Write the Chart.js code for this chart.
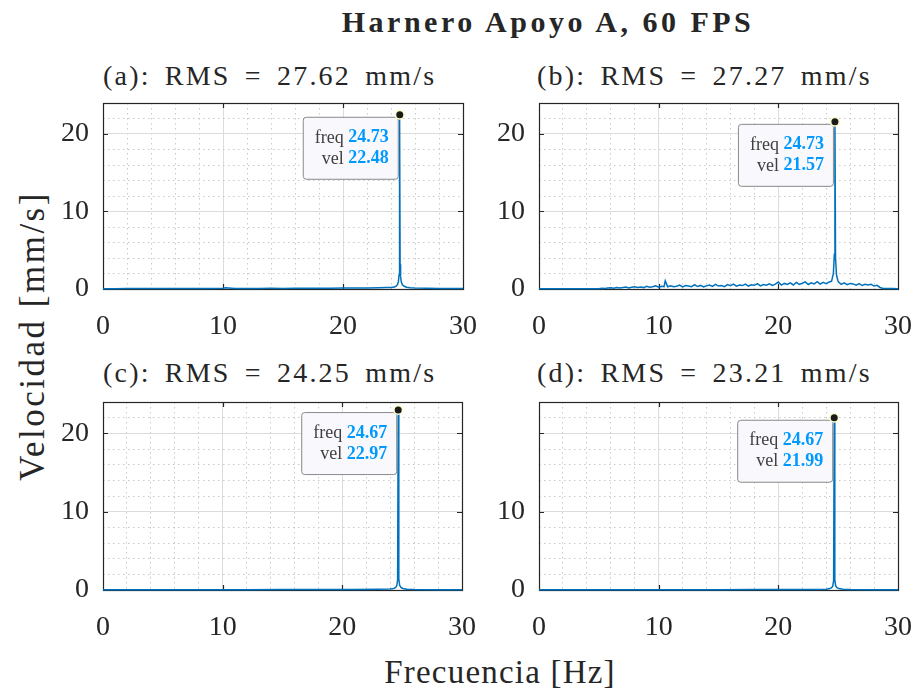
<!DOCTYPE html>
<html lang="es">
<head>
<meta charset="utf-8">
<title>Harnero Apoyo A, 60 FPS</title>
<script src="https://cdn.jsdelivr.net/npm/chart.js@4.4.1/dist/chart.umd.min.js"></script>
<style>
  html, body { margin: 0; padding: 0; background: #fff; }
  #page { position: relative; width: 914px; height: 696px; overflow: hidden;
          font-family: 'Liberation Serif', 'Times New Roman', serif; color: #262626; }
  canvas { position: absolute; }
  .txt { position: absolute; white-space: nowrap; line-height: 1; }
  #title { left: 548px; top: 22px; transform: translate(-50%, -50%); font-size: 30px; font-weight: bold; letter-spacing: 3.5px; }
  .sub { font-size: 28px; letter-spacing: 2.2px; word-spacing: 5px; transform: translateY(-50%); }
  #ylab { left: 32px; top: 336px; transform: translate(-50%, -50%) rotate(-90deg); font-size: 35px; letter-spacing: 2.5px; }
  #xlab { left: 500px; top: 672px; transform: translate(-50%, -50%); font-size: 33px; letter-spacing: 1.2px; }
</style>
</head>
<body>
<div id="page">
  <div class="txt" id="title">Harnero Apoyo A, 60 FPS</div>
  <div class="txt sub" style="left:103px; top:76px">(a): RMS = 27.62 mm/s</div>
  <div class="txt sub" style="left:537px; top:76px">(b): RMS = 27.27 mm/s</div>
  <div class="txt sub" style="left:103px; top:373px">(c): RMS = 24.25 mm/s</div>
  <div class="txt sub" style="left:537px; top:373px">(d): RMS = 23.21 mm/s</div>
  <div class="txt" id="ylab">Velocidad [mm/s]</div>
  <div class="txt" id="xlab">Frecuencia [Hz]</div>
  <canvas id="cA" width="480" height="260" style="left:0; top:95px"></canvas>
  <canvas id="cB" width="434" height="260" style="left:480px; top:95px"></canvas>
  <canvas id="cC" width="480" height="255" style="left:0; top:395px"></canvas>
  <canvas id="cD" width="434" height="255" style="left:480px; top:395px"></canvas>
</div>
<script>
// ---- datos ----
const xTicks = [0, 10, 20, 30];
const yTicks = [0, 10, 20];

// (a)
const freqA = [0, 0.5, 1, 2, 3, 4, 5, 6, 7, 8, 9, 10, 10.2, 11, 12, 13, 14, 15, 16, 17, 18, 19, 20, 21, 22, 23, 23.6,
  24.0, 24.3, 24.45, 24.55, 24.62, 24.67, 24.70, 24.73, 24.76, 24.80, 24.86, 24.95, 25.1, 25.3, 25.6, 26, 27, 28, 29, 30];
const velA = [0.02, 0.03, 0.04, 0.05, 0.05, 0.06, 0.05, 0.07, 0.06, 0.08, 0.07, 0.09, 0.16, 0.08, 0.07, 0.08, 0.09, 0.08, 0.1, 0.09, 0.1, 0.11, 0.12, 0.12, 0.13, 0.15, 0.18,
  0.2, 0.25, 0.4, 0.6, 1.0, 1.8, 3.5, 22.48, 3.2, 1.6, 0.9, 0.55, 0.35, 0.22, 0.15, 0.12, 0.1, 0.08, 0.06, 0.05];

// (b)
const freqB = [0, 1, 2, 3, 4, 4.6,
  5.0, 5.25, 5.5, 5.75, 6.0, 6.25, 6.5, 6.75, 7.0, 7.25, 7.5, 7.75, 8.0, 8.25, 8.5, 8.75, 9.0, 9.25, 9.5, 9.75,
  10.0, 10.25, 10.45, 10.55, 10.75, 11.0, 11.25, 11.5, 11.75, 12.0, 12.25, 12.5, 12.75, 13.0, 13.25, 13.5, 13.75,
  14.0, 14.25, 14.5, 14.75, 15.0, 15.25, 15.5, 15.75, 16.0, 16.25, 16.5, 16.75, 17.0, 17.25, 17.5, 17.75,
  18.0, 18.25, 18.5, 18.75, 19.0, 19.25, 19.5, 19.75, 20.0, 20.25, 20.5, 20.75, 21.0, 21.25, 21.5, 21.75,
  22.0, 22.25, 22.5, 22.75, 23.0, 23.25, 23.5, 23.75, 24.0, 24.25, 24.45, 24.6, 24.68, 24.73, 24.78, 24.86,
  25.0, 25.25, 25.5, 25.75, 26.0, 26.25, 26.5, 26.75, 27.0, 27.25, 27.5, 27.75, 28.0, 28.25, 28.5, 28.75, 29.5, 30];
const velB = [0.02, 0.02, 0.03, 0.03, 0.03, 0.04,
  0.04, 0.1, 0.07, 0.12, 0.15, 0.09, 0.2, 0.14, 0.18, 0.25, 0.12, 0.22, 0.3, 0.2, 0.26, 0.18, 0.34, 0.24, 0.3, 0.4,
  0.22, 0.36, 0.3, 1.05, 0.28, 0.42, 0.3, 0.36, 0.5, 0.26, 0.44, 0.38, 0.3, 0.55, 0.32, 0.46, 0.28,
  0.4, 0.52, 0.34, 0.6, 0.38, 0.45, 0.3, 0.56, 0.42, 0.62, 0.36, 0.5, 0.44, 0.64, 0.38, 0.55,
  0.48, 0.7, 0.4, 0.58, 0.5, 0.66, 0.45, 0.62, 0.9, 0.5, 0.72, 0.58, 0.8, 0.52, 0.86, 0.6,
  0.74, 0.92, 0.58, 0.8, 0.66, 0.95, 0.62, 0.85, 0.7, 0.9, 1.0, 2.0, 4.5, 21.57, 4.0, 1.8,
  0.95, 0.6, 0.8, 0.55, 0.72, 0.66, 0.5, 0.7, 0.45, 0.62, 0.52, 0.6, 0.38, 0.48, 0.2, 0.08, 0.05, 0.04];

// (c)
const freqC = [0, 3, 6, 9, 12, 15, 18, 21, 23, 24, 24.3, 24.45, 24.55, 24.62, 24.67, 24.72, 24.79, 24.9, 25.05, 25.4, 26, 28, 30];
const velC = [0.02, 0.03, 0.03, 0.04, 0.04, 0.05, 0.05, 0.06, 0.08, 0.12, 0.2, 0.32, 0.55, 1.3, 22.97, 1.4, 0.6, 0.34, 0.2, 0.1, 0.06, 0.04, 0.03];

// (d)
const freqD = [0, 3, 6, 9, 12, 15, 18, 21, 23, 24, 24.3, 24.45, 24.55, 24.62, 24.67, 24.72, 24.79, 24.9, 25.05, 25.4, 26, 28, 30];
const velD = [0.02, 0.02, 0.03, 0.03, 0.04, 0.04, 0.05, 0.05, 0.07, 0.1, 0.18, 0.3, 0.5, 1.2, 21.99, 1.3, 0.55, 0.3, 0.18, 0.09, 0.05, 0.04, 0.03];

// picos marcados (datatips)
const peaks = {
  a: { f: 24.73, v: 22.48 },
  b: { f: 24.73, v: 21.57 },
  c: { f: 24.67, v: 22.97 },
  d: { f: 24.67, v: 21.99 }
};

const LINE_BLUE = '#0072BD';
const AXIS_COL = '#262626';
const SERIF = "'Liberation Serif', 'Times New Roman', serif";

// caja del eje + marcas hacia adentro (estilo MATLAB)
const boxPlugin = {
  id: 'boxPlugin',
  beforeDatasetsDraw(chart) {
    const { ctx, chartArea: a, scales: { x, y } } = chart;
    ctx.save();
    ctx.strokeStyle = AXIS_COL;
    ctx.lineWidth = 1.2;
    ctx.strokeRect(a.left + 0.5, a.top + 0.5, a.right - a.left, a.bottom - a.top);
    ctx.beginPath();
    xTicks.slice(1, -1).forEach(v => {
      const px = Math.round(x.getPixelForValue(v)) + 0.5;
      ctx.moveTo(px, a.bottom); ctx.lineTo(px, a.bottom - 5);
      ctx.moveTo(px, a.top); ctx.lineTo(px, a.top + 5);
    });
    yTicks.slice(1).forEach(v => {
      const py = Math.round(y.getPixelForValue(v)) + 0.5;
      ctx.moveTo(a.left, py); ctx.lineTo(a.left + 5, py);
      ctx.moveTo(a.right, py); ctx.lineTo(a.right - 5, py);
    });
    ctx.stroke();
    ctx.restore();
  }
};

// cuadro de dato sobre el pico
function tipPlugin(peak) {
  return {
    id: 'peakTip',
    afterDatasetsDraw(chart) {
      const { ctx, scales: { x, y } } = chart;
      const px = x.getPixelForValue(peak.f);
      const py = y.getPixelForValue(peak.v);
      const w = 95, h = 62;
      const right = px - 2, top = py + 2, left = right - w;
      ctx.save();
      ctx.beginPath();
      ctx.roundRect(left + 0.5, top + 0.5, w, h, 3);
      ctx.fillStyle = '#f8f8fd';
      ctx.fill();
      ctx.strokeStyle = '#8a8a8a';
      ctx.lineWidth = 1;
      ctx.stroke();

      const rows = [['freq ', peak.f.toFixed(2)], ['vel ', peak.v.toFixed(2)]];
      ctx.textBaseline = 'middle';
      rows.forEach((r, i) => {
        const cy = top + 21 + i * 21;
        ctx.font = 'bold 18px ' + SERIF;
        const vw = ctx.measureText(r[1]).width;
        ctx.textAlign = 'right';
        ctx.fillStyle = '#0099ff';
        ctx.fillText(r[1], right - 9, cy);
        ctx.font = '18px ' + SERIF;
        ctx.fillStyle = '#404040';
        ctx.fillText(r[0], right - 9 - vw, cy);
      });

      // marcador del pico
      ctx.beginPath();
      ctx.arc(px, py, 5, 0, Math.PI * 2);
      ctx.fillStyle = '#fdfbc8';
      ctx.fill();
      ctx.beginPath();
      ctx.arc(px, py, 3.5, 0, Math.PI * 2);
      ctx.fillStyle = '#1a1a1a';
      ctx.fill();
      ctx.restore();
    }
  };
}

const gridColor = c => {
  if (!c.tick) return 'transparent';
  return c.tick.value % 10 === 0 ? '#dcdcdc' : '#c9c9c9';
};
const gridDash = c => (c.tick && c.tick.value % 10 !== 0) ? [1.5, 3.5] : [];

// sin relleno automatico por etiquetas que sobresalen
function noOverflow(s) {
  s.paddingTop = 0; s.paddingBottom = 0; s.paddingLeft = 0; s.paddingRight = 0;
}

function makePanel(canvasId, freq, vel, peak, cfg) {
  const ctx = document.getElementById(canvasId).getContext('2d');
  const tickFont = { family: SERIF, size: 28 };
  const hideY = cfg.hideY || [];
  return new Chart(ctx, {
    type: 'line',
    data: {
      datasets: [{
        data: freq.map((f, i) => ({ x: f, y: vel[i] })),
        borderColor: LINE_BLUE,
        borderWidth: 1.5,
        pointRadius: 0,
        tension: 0,
        fill: false,
        clip: false
      }]
    },
    options: {
      responsive: false,
      animation: false,
      layout: { autoPadding: false, padding: cfg.pad },
      plugins: { legend: { display: false }, tooltip: { enabled: false } },
      scales: {
        x: {
          type: 'linear', min: 0, max: 30,
          afterFit: s => { s.height = 50; noOverflow(s); },
          ticks: {
            stepSize: 2, autoSkip: false, minRotation: 0, maxRotation: 0, padding: 21,
            font: tickFont, color: AXIS_COL,
            callback: v => xTicks.includes(v) ? String(v) : ''
          },
          grid: { drawTicks: false, color: gridColor, lineWidth: 1 },
          border: { display: false, dash: gridDash }
        },
        y: {
          type: 'linear', min: 0, max: 24,
          afterFit: s => { s.width = cfg.yWidth; noOverflow(s); },
          ticks: {
            stepSize: 2, autoSkip: false, padding: 14,
            font: tickFont, color: AXIS_COL,
            callback: v => (yTicks.includes(v) && !hideY.includes(v)) ? String(v) : ''
          },
          grid: { drawTicks: false, color: gridColor, lineWidth: 1 },
          border: { display: false, dash: gridDash }
        }
      }
    },
    plugins: [boxPlugin, tipPlugin(peak)]
  });
}

makePanel('cA', freqA, velA, peaks.a, { yWidth: 103, pad: { left: 0, top: 8, right: 17, bottom: 16 } });
makePanel('cB', freqB, velB, peaks.b, { yWidth: 59, pad: { left: 0, top: 8, right: 16, bottom: 16 } });
makePanel('cC', freqC, velC, peaks.c, { yWidth: 103, pad: { left: 0, top: 7, right: 18, bottom: 10 } });
makePanel('cD', freqD, velD, peaks.d, { yWidth: 59, pad: { left: 0, top: 7, right: 16, bottom: 10 }, hideY: [20] });
</script>
</body>
</html>
